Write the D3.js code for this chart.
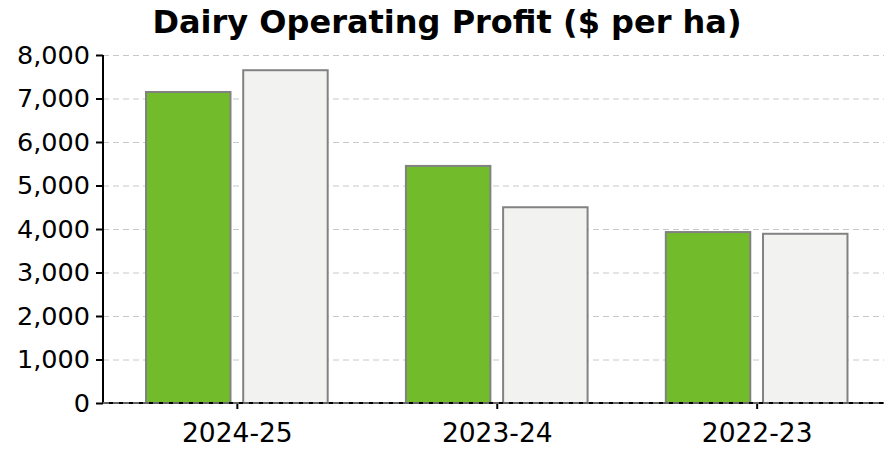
<!DOCTYPE html>
<html>
<head>
<meta charset="utf-8">
<script src="https://cdn.jsdelivr.net/npm/d3@7"></script>
<style>
  body { margin: 0; background: #fff; }
  text { font-family: "DejaVu Sans", sans-serif; }
</style>
</head>
<body>
<script>
// chart data
var seasons = ["2024-25", "2023-24", "2022-23"];
var seriesA = [7150, 5450, 3930];   // green bars
var seriesB = [7650, 4500, 3890];   // light bars
var yTicks = [0, 1000, 2000, 3000, 4000, 5000, 6000, 7000, 8000];

var W = 884, H = 449;
var m = {left: 103, bottom: 403, top: 55, right: 884};

var svg = d3.select("body").append("svg")
    .attr("width", W)
    .attr("height", H);

var x = d3.scaleLinear()
    .domain([-0.515, 2.49])
    .range([m.left, m.right]);

var y = d3.scaleLinear()
    .domain([0, 8000])
    .range([m.bottom, m.top]);

var barW = 0.325, off = 0.187;

// grid lines (under bars)
var grid = svg.append("g");
grid.selectAll("line")
    .data(yTicks.slice(1))
    .enter().append("line")
    .attr("x1", m.left).attr("x2", m.right)
    .attr("y1", function(d) { return y(d) + 0.5; })
    .attr("y2", function(d) { return y(d) + 0.5; })
    .attr("stroke", "#c8c8c8")
    .attr("stroke-width", 1)
    .attr("stroke-dasharray", "6,4");

// bars
function drawBars(vals, shift, fill) {
    svg.append("g").selectAll("rect")
        .data(vals)
        .enter().append("rect")
        .attr("x", function(d, i) { return x(i + shift - barW / 2); })
        .attr("width", x(barW) - x(0))
        .attr("y", function(d) { return y(d); })
        .attr("height", function(d) { return m.bottom - y(d); })
        .attr("fill", fill)
        .attr("stroke", "#828282")
        .attr("stroke-width", 2);
}
drawBars(seriesA, -off, "#72bb2a");
drawBars(seriesB, off, "#f2f3f1");

// y axis
var yAxis = svg.append("g")
    .attr("transform", "translate(" + m.left + ",0)")
    .call(d3.axisLeft(y).tickValues(yTicks).tickSize(7).tickPadding(6)
        .tickFormat(d3.format(",")));
yAxis.select(".domain").attr("stroke", "#000").attr("stroke-width", 2).attr("d", "M0," + m.top + "V" + m.bottom);
yAxis.selectAll(".tick line").attr("stroke", "#000").attr("stroke-width", 2);
yAxis.selectAll("text").attr("font-size", 25.5).attr("fill", "#000")
    .attr("font-family", "DejaVu Sans");

// x axis
var xAxis = svg.append("g")
    .attr("transform", "translate(0," + m.bottom + ")")
    .call(d3.axisBottom(x).tickValues([0, 1, 2]).tickSize(6).tickPadding(14)
        .tickFormat(function(d) { return seasons[d]; }));
xAxis.select(".domain").attr("stroke", "#000").attr("stroke-width", 2).attr("d", "M" + m.left + ",0H" + m.right);
xAxis.selectAll(".tick line").attr("stroke", "#000").attr("stroke-width", 2);
xAxis.selectAll("text").attr("font-size", 26.5).attr("fill", "#000")
    .attr("font-family", "DejaVu Sans");

// zero grid line drawn over the spine
svg.append("line")
    .attr("x1", m.left).attr("x2", m.right)
    .attr("y1", m.bottom).attr("y2", m.bottom)
    .attr("stroke", "#c8c8c8")
    .attr("stroke-width", 1)
    .attr("stroke-dasharray", "6,4");

// title
svg.append("text")
    .attr("x", 447)
    .attr("y", 33)
    .attr("text-anchor", "middle")
    .attr("font-size", 32)
    .attr("font-weight", "bold")
    .attr("fill", "#000")
    .text("Dairy Operating Profit ($ per ha)");
</script>
</body>
</html>
